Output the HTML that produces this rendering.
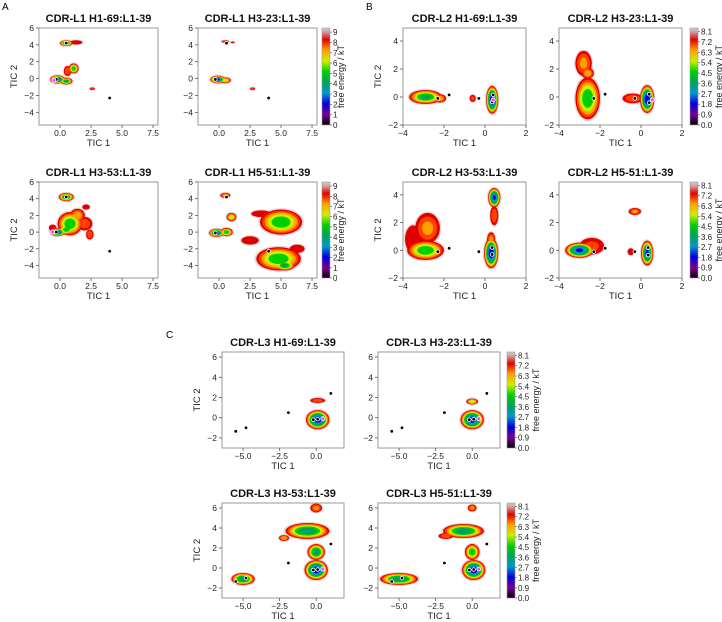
<!DOCTYPE html>
<html><head><meta charset="utf-8">
<style>
html,body{margin:0;padding:0;background:#fff;}
svg{display:block;font-family:"Liberation Sans","DejaVu Sans",sans-serif;}
</style></head>
<body>
<svg id="fig" width="722" height="622" viewBox="0 0 722 622" xmlns="http://www.w3.org/2000/svg">
<defs>
<linearGradient id="cmap" x1="0" y1="1" x2="0" y2="0">
<stop offset="0" stop-color="#000000"/>
<stop offset="0.11" stop-color="#7a0090"/>
<stop offset="0.22" stop-color="#0000dd"/>
<stop offset="0.33" stop-color="#0099cc"/>
<stop offset="0.44" stop-color="#00a060"/>
<stop offset="0.55" stop-color="#00d000"/>
<stop offset="0.66" stop-color="#ccf000"/>
<stop offset="0.77" stop-color="#ffa000"/>
<stop offset="0.88" stop-color="#e00000"/>
<stop offset="0.96" stop-color="#d0a0a0"/>
<stop offset="1" stop-color="#cccccc"/>
</linearGradient>
</defs>
<text x="2" y="10" font-size="10">A</text>
<text x="366" y="10" font-size="10">B</text>
<text x="166" y="338" font-size="10">C</text>
</svg>
<script>
// basins: [cx, cy, rx, ry, minEnergy]
const basinsA1=[[0.5,4.2,0.5,0.35,3],[1.3,4.3,0.5,0.25,8],[-0.2,-0.1,0.6,0.5,1.5],[0.5,-0.3,0.5,0.4,3.5],[1.1,1.2,0.4,0.6,4],[0.6,0.9,0.3,0.6,7],[2.6,-1.2,0.2,0.15,7.5]];
const basinsA2=[[0.5,4.4,0.3,0.15,7],[1.1,4.3,0.15,0.1,8],[-0.1,-0.1,0.6,0.45,1.5],[0.5,-0.2,0.45,0.35,5],[2.7,-1.2,0.2,0.15,7.5]];
const basinsA3=[[0.5,4.2,0.6,0.5,3],[-0.2,0,0.6,0.5,1.5],[0.8,1.0,1.0,1.4,4],[0.5,0.3,0.6,0.6,4],[1.4,2.0,0.6,0.8,6],[2.0,1.0,0.6,0.8,7],[2.4,-0.3,0.3,0.6,7],[-0.6,0.5,0.3,0.4,8],[2.1,3.0,0.3,0.3,8.5]];
const basinsA4=[[0.5,4.4,0.4,0.3,6],[-0.2,-0.1,0.6,0.5,1.5],[0.6,0,0.5,0.5,4],[1.0,1.8,0.4,0.5,5],[5.0,1.2,1.7,1.5,4],[4.8,-3.2,1.8,1.4,4],[5.3,-4.0,0.8,0.6,3.5],[3.4,2.2,0.8,0.4,8.6],[2.5,-1,0.7,0.5,8.7],[6.3,-2,0.6,0.5,8.3]];
const basinsB1=[[-2.9,0,0.8,0.5,3.5],[-2.2,-0.1,0.3,0.3,6],[-0.6,-0.1,0.15,0.25,7.5],[0.35,-0.2,0.3,1.0,1]];
const basinsB2=[[-2.6,-0.1,0.6,1.5,4],[-2.8,2.4,0.4,0.9,6.5],[-2.6,1.7,0.3,0.4,6],[-0.4,-0.1,0.5,0.35,7],[0.3,-0.15,0.35,1.0,1]];
const basinsB3=[[-2.9,0,0.9,0.7,4],[-2.8,1.6,0.6,1.1,6.5],[-3.5,0.8,0.4,1.0,8],[0.45,3.8,0.3,0.7,1.5],[0.45,2.5,0.2,0.7,7],[0.3,-0.2,0.35,1.1,1],[0.3,0.8,0.2,0.5,6.5]];
const basinsB4=[[-3,0,0.7,0.55,1.5],[-2.4,0.3,0.6,0.6,7.5],[-0.3,2.8,0.3,0.25,6.5],[0.3,-0.2,0.3,0.9,1.5],[-0.5,-0.1,0.15,0.25,8]];
const basinsC1=[[0.1,1.7,0.5,0.25,7],[0.1,-0.2,0.8,0.95,1.2]];
const basinsC2=[[0,1.6,0.4,0.3,5],[0,-0.2,0.8,0.95,1.2]];
const basinsC3=[[-5,-1.1,0.8,0.6,3],[0,6,0.4,0.45,6.5],[-0.6,3.7,1.5,0.8,3],[-2.2,3,0.35,0.3,6],[0,1.6,0.6,0.8,3],[0,-0.2,0.8,1.0,1.2]];
const basinsC4=[[-5,-1.1,1.3,0.6,3],[0,6,0.3,0.35,6.5],[-0.6,3.7,1.4,0.7,3],[-1.8,3.2,0.5,0.3,7],[0,1.6,0.5,0.8,4],[0.1,-0.2,0.8,1.0,1.2]];
// markers: [x, y, type] type 0 black, 1 magenta
const marksA1=[[0.5,4.2,0],[-0.3,-0.1,0],[4,-2.3,0],[-0.5,-0.2,1]];
const marksA2=[[0.6,4.2,0],[-0.3,-0.1,0],[4,-2.3,0]];
const marksA3=[[0.5,4.2,0],[-0.3,0,0],[4,-2.3,0],[-0.6,0,1]];
const marksA4=[[0.6,4.2,0],[-0.3,-0.1,0],[4,-2.3,0]];
const marksB1=[[-2.3,-0.1,0],[-1.75,0.15,0],[-0.3,-0.1,0],[0.4,0.15,0],[0.35,-0.35,0],[0.4,-0.2,1]];
const marksB2=[[-2.3,-0.1,0],[-1.75,0.2,0],[-0.3,-0.1,0],[0.4,0.2,0],[0.4,-0.4,0],[0.55,-0.2,1]];
const marksB3=[[-2.3,-0.1,0],[-1.75,0.15,0],[-0.3,-0.1,0],[0.35,0.2,0],[0.35,-0.3,0]];
const marksB4=[[-2.3,-0.1,0],[-1.75,0.15,0],[-0.3,-0.1,0],[0.35,0.2,0],[0.35,-0.35,0]];
const marksC=[[-5.5,-1.35,0],[-4.8,-1.0,0],[-1.9,0.5,0],[1,2.4,0],[-0.2,-0.2,0],[0.1,-0.15,0],[0.45,-0.1,1]];
const xTicksA=[0,2.5,5,7.5], yTicksA=[-4,-2,0,2,4,6];
const xTicksB=[-4,-2,0,2], yTicksB=[-2,0,2,4];
const xTicksC=[-5,-2.5,0], yTicksC=[-2,0,2,4,6];
const cbarLabelsA=[0,1,2,3,4,5,6,7,8,9];
const cbarLabelsBC=[0,0.9,1.8,2.7,3.6,4.5,5.4,6.3,7.2,8.1];

const NS='http://www.w3.org/2000/svg';
const svg=document.getElementById('fig');
function mk(tag,attrs,parent){const e=document.createElementNS(NS,tag);for(const k in attrs)e.setAttribute(k,attrs[k]);(parent||svg).appendChild(e);return e;}
const bandColors=['#7a0090','#0000dd','#0099cc','#00a060','#00d000','#ccf000','#ffa000','#ff4000','#e00000'];
function fmt(v,dec){const s=v.toFixed(dec);return v<0?'\u2212'+s.slice(1):s;}

const panels=[
 {id:'a1',title:'CDR-L1 H1-69:L1-39',px:[39,158],py:[28,125],xl:[-1.7,7.9],yl:[-5.5,6],xt:xTicksA,yt:yTicksA,xd:1,b:basinsA1,m:marksA1,ylab:true},
 {id:'a2',title:'CDR-L1 H3-23:L1-39',px:[198,317],py:[28,125],xl:[-1.7,7.9],yl:[-5.5,6],xt:xTicksA,yt:yTicksA,xd:1,b:basinsA2,m:marksA2,cb:[322,cbarLabelsA,9.4,0]},
 {id:'a3',title:'CDR-L1 H3-53:L1-39',px:[39,158],py:[182,278],xl:[-1.7,7.9],yl:[-5.5,6],xt:xTicksA,yt:yTicksA,xd:1,b:basinsA3,m:marksA3,ylab:true},
 {id:'a4',title:'CDR-L1 H5-51:L1-39',px:[198,317],py:[182,278],xl:[-1.7,7.9],yl:[-5.5,6],xt:xTicksA,yt:yTicksA,xd:1,b:basinsA4,m:marksA4,cb:[322,cbarLabelsA,9.4,0]},
 {id:'b1',title:'CDR-L2 H1-69:L1-39',px:[403,526],py:[28,125],xl:[-4,2],yl:[-2,4.93],xt:xTicksB,yt:yTicksB,xd:0,b:basinsB1,m:marksB1,ylab:true},
 {id:'b2',title:'CDR-L2 H3-23:L1-39',px:[559,682],py:[28,125],xl:[-4,2],yl:[-2,4.93],xt:xTicksB,yt:yTicksB,xd:0,b:basinsB2,m:marksB2,cb:[690,cbarLabelsBC,8.4,1]},
 {id:'b3',title:'CDR-L2 H3-53:L1-39',px:[403,526],py:[182,278],xl:[-4,2],yl:[-2,4.93],xt:xTicksB,yt:yTicksB,xd:0,b:basinsB3,m:marksB3,ylab:true},
 {id:'b4',title:'CDR-L2 H5-51:L1-39',px:[559,682],py:[182,278],xl:[-4,2],yl:[-2,4.93],xt:xTicksB,yt:yTicksB,xd:0,b:basinsB4,m:marksB4,cb:[690,cbarLabelsBC,8.4,1]},
 {id:'c1',title:'CDR-L3 H1-69:L1-39',px:[222,344],py:[352,448],xl:[-6.44,1.9],yl:[-3,6.5],xt:xTicksC,yt:yTicksC,xd:1,b:basinsC1,m:marksC,ylab:true},
 {id:'c2',title:'CDR-L3 H3-23:L1-39',px:[378,500],py:[352,448],xl:[-6.44,1.9],yl:[-3,6.5],xt:xTicksC,yt:yTicksC,xd:1,b:basinsC2,m:marksC,cb:[507,cbarLabelsBC,8.4,1]},
 {id:'c3',title:'CDR-L3 H3-53:L1-39',px:[222,344],py:[503,598],xl:[-6.44,1.9],yl:[-3,6.5],xt:xTicksC,yt:yTicksC,xd:1,b:basinsC3,m:marksC,ylab:true},
 {id:'c4',title:'CDR-L3 H5-51:L1-39',px:[378,500],py:[503,598],xl:[-6.44,1.9],yl:[-3,6.5],xt:xTicksC,yt:yTicksC,xd:1,b:basinsC4,m:marksC,cb:[507,cbarLabelsBC,8.4,1]}
];

panels.forEach(p=>{
 const g=mk('g',{});
 
 
 const sx=v=>p.px[0]+(v-p.xl[0])/(p.xl[1]-p.xl[0])*(p.px[1]-p.px[0]);
 const sy=v=>p.py[1]-(v-p.yl[0])/(p.yl[1]-p.yl[0])*(p.py[1]-p.py[0]);
 const kx=(p.px[1]-p.px[0])/(p.xl[1]-p.xl[0]), ky=(p.py[1]-p.py[0])/(p.yl[1]-p.yl[0]);
 const cp=mk('clipPath',{id:'clip-'+p.id},g);
 mk('rect',{x:p.px[0],y:p.py[0],width:p.px[1]-p.px[0],height:p.py[1]-p.py[0]},cp);
 const land=mk('g',{'clip-path':'url(#clip-'+p.id+')'},g);
 
 
 p.b.forEach(b=>{
  const e=mk('ellipse',{cx:sx(b[0]),cy:sy(b[1]),rx:b[2]*kx*1.05+0.8,ry:b[3]*ky*1.05+0.8,fill:'#e6d6d6'},land);
  
  
 });
 for(let T=9;T>=1;T--){
  p.b.forEach(b=>{
   if(b[4]>=T) return;
   const s=Math.sqrt((T-b[4])/(9-b[4]));
   const e=mk('ellipse',{cx:sx(b[0]),cy:sy(b[1]),rx:b[2]*kx*s,ry:b[3]*ky*s,fill:bandColors[T-1]},land);
   
   
  });
 }
 p.m.forEach(m=>{
  const c=mk('circle',{cx:sx(m[0]),cy:sy(m[1]),r:m[2]?2:1.8,fill:m[2]?'#ff44ff':'#000',stroke:'#fff','stroke-width':0.8},land);
  
  
 });
 const fr=mk('rect',{x:p.px[0],y:p.py[0],width:p.px[1]-p.px[0],height:p.py[1]-p.py[0],fill:'none',stroke:'#999','stroke-width':1},g);
 
 
 p.xt.forEach(v=>{
  const x=sx(v);
  mk('line',{x1:x,x2:x,y1:p.py[1],y2:p.py[1]+3,stroke:'#555','stroke-width':0.8},g);
  const t=mk('text',{x:x,y:p.py[1]+11,'font-size':8.5,'text-anchor':'middle',fill:'#222'},g);
  t.textContent=fmt(v,p.xd);
  
  
 });
 p.yt.forEach(v=>{
  const y=sy(v);
  mk('line',{x1:p.px[0]-3,x2:p.px[0],y1:y,y2:y,stroke:'#555','stroke-width':0.8},g);
  const t=mk('text',{x:p.px[0]-5,y:y+3,'font-size':8.5,'text-anchor':'end',fill:'#222'},g);
  t.textContent=fmt(v,0);
  
  
 });
 const cx=(p.px[0]+p.px[1])/2;
 const tt=mk('text',{x:cx,y:p.py[0]-6,'font-size':11,'font-weight':'bold','text-anchor':'middle',fill:'#111'},g);
 tt.textContent=p.title;
 
 
 const xl=mk('text',{x:cx,y:p.py[1]+21,'font-size':9.5,'text-anchor':'middle',fill:'#222'},g);
 xl.textContent='TIC 1';
 
 
 if(p.ylab){
  const yy=(p.py[0]+p.py[1])/2, xx=p.px[0]-22;
  const yl=mk('text',{x:xx,y:yy,'font-size':9.5,'text-anchor':'middle',fill:'#222',transform:'rotate(-90 '+xx+' '+yy+')'},g);
  yl.textContent='TIC 2';
  
  
 }
 if(p.cb){
  const [bx,labels,vmax,dec]=p.cb;
  const cb=mk('rect',{x:bx,y:p.py[0],width:8,height:p.py[1]-p.py[0],fill:'url(#cmap)',stroke:'#999','stroke-width':0.6},g);
  
  
  const cy=v=>p.py[1]-v/vmax*(p.py[1]-p.py[0]);
  labels.forEach(v=>{
   const y=cy(v);
   mk('line',{x1:bx+8,x2:bx+10,y1:y,y2:y,stroke:'#555','stroke-width':0.6},g);
   const t=mk('text',{x:bx+11,y:y+3,'font-size':8,fill:'#222'},g);
   t.textContent=v.toFixed(dec);
   
   
  });
  const lx=bx+(dec?32:22), ly=(p.py[0]+p.py[1])/2;
  const cl=mk('text',{x:lx,y:ly,'font-size':9,'text-anchor':'middle',fill:'#222',transform:'rotate(-90 '+lx+' '+ly+')'},g);
  cl.textContent='free energy / kT';
  
  
 }
});
</script>
</body></html>
